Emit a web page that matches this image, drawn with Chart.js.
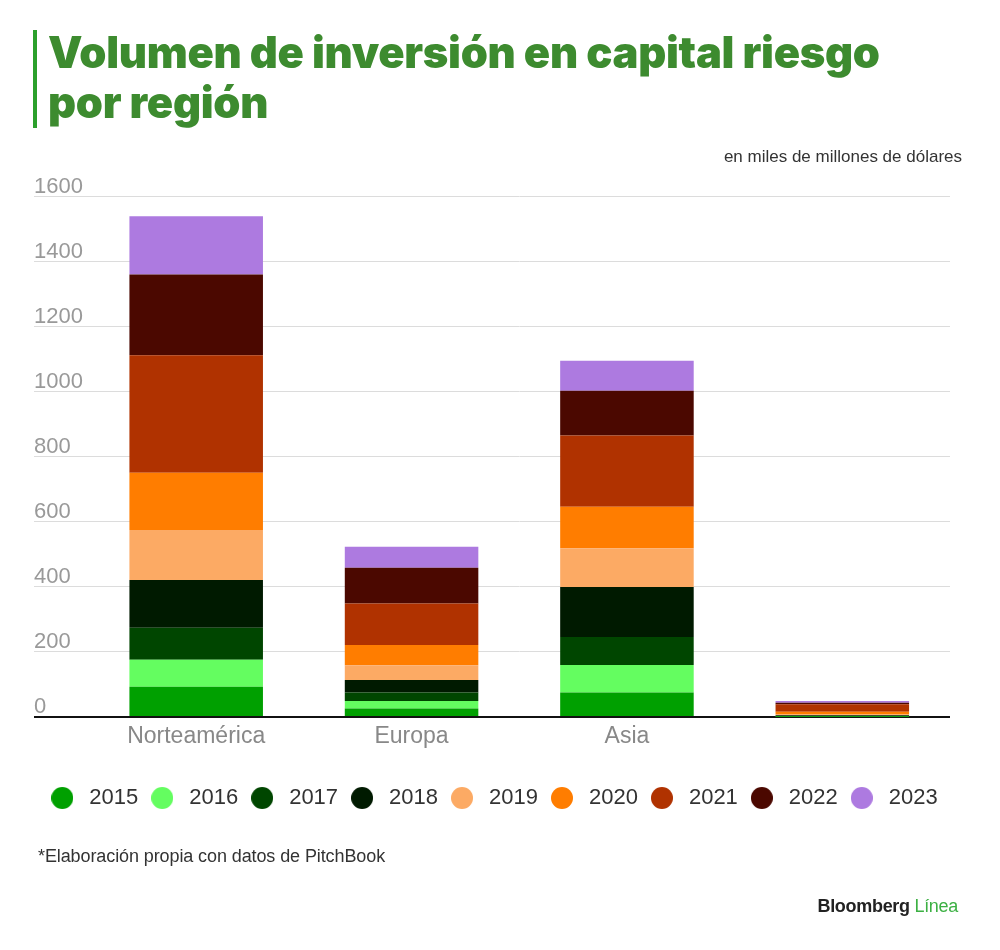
<!DOCTYPE html>
<html lang="es">
<head>
<meta charset="utf-8">
<title>Volumen de inversión en capital riesgo por región</title>
<script src="https://cdn.jsdelivr.net/npm/chart.js@4.4.1/dist/chart.umd.min.js"></script>
<style>
  html, body { margin: 0; padding: 0; background: #fff; }
  #page { position: relative; width: 1000px; height: 950px; overflow: hidden; font-family: "Liberation Sans", Arial, sans-serif; }
  #wrap { position: absolute; left: 0; top: 0; width: 1000px; height: 950px; }
  .bar { position: absolute; left: 33px; top: 30px; width: 4px; height: 98px; background: #2ca02c; }
  h1 { position: absolute; left: 48px; top: 27px; margin: 0; font-family: Inter, "Open Sans", sans-serif; font-weight: 900;
       font-size: 43.5px; line-height: 50px; letter-spacing: -0.3px; color: #3d8b2f; }
  .unit { position: absolute; right: 38px; top: 147px; font-size: 17px; color: #333; letter-spacing: 0; }
  .note { position: absolute; left: 38px; top: 846px; font-size: 18px; color: #333; letter-spacing: -0.1px; }
  .logo { position: absolute; right: 42px; top: 896px; font-size: 18px; font-weight: bold; color: #222; letter-spacing: -0.3px; }
  .logo span { color: #3cb043; font-weight: normal; }
</style>
</head>
<body>
<div id="page">
  <div id="wrap"><canvas id="grafica"></canvas></div>
  <div class="bar"></div>
  <h1>Volumen de inversión en capital riesgo<br>por región</h1>
  <div class="unit">en miles de millones de dólares</div>
  <div class="note">*Elaboración propia con datos de PitchBook</div>
  <div class="logo">Bloomberg <span>Línea</span></div>
</div>
<script>
  // regiones (la cuarta barra no tiene etiqueta en el original)
  const regiones = ['Norteamérica', 'Europa', 'Asia', ''];
  const anios = ['2015', '2016', '2017', '2018', '2019', '2020', '2021', '2022', '2023'];

  // miles de millones de dólares
  const v2015 = [93, 26, 75, 1];
  const v2016 = [83, 23, 85, 1];
  const v2017 = [98, 26, 86, 1];
  const v2018 = [147, 39, 154, 2];
  const v2019 = [154, 45, 119, 3];
  const v2020 = [176, 62, 127, 8];
  const v2021 = [361, 128, 219, 23];
  const v2022 = [248, 110, 138, 5];
  const v2023 = [179, 64, 92, 5];

  const ticksY = [0, 200, 400, 600, 800, 1000, 1200, 1400, 1600];

  const colores = ['#00a000', '#64fd60', '#004600', '#001a00', '#fcaa64', '#ff7d00', '#b03200', '#4b0800', '#ad7ae0'];
  const series = [v2015, v2016, v2017, v2018, v2019, v2020, v2021, v2022, v2023];

  // circulitos de la leyenda (imagen para poder separar el texto del punto)
  const puntos = colores.map(c => {
    const cv = document.createElement('canvas');
    cv.width = 22; cv.height = 22;
    const g = cv.getContext('2d');
    g.fillStyle = c;
    g.beginPath();
    g.arc(11, 11, 11, 0, Math.PI * 2);
    g.fill();
    return cv;
  });

  const ctx = document.getElementById('grafica').getContext('2d');

  const grafica = new Chart(ctx, {
    type: 'bar',
    data: {
      labels: regiones,
      datasets: series.map((valores, i) => ({
        label: anios[i],
        data: valores,
        backgroundColor: colores[i],
        borderWidth: 0,
        categoryPercentage: 1,
        barPercentage: 0.62
      }))
    },
    options: {
      responsive: true,
      maintainAspectRatio: false,
      animation: false,
      layout: {
        padding: { left: 34, right: 50, top: 196.5, bottom: 131 }
      },
      plugins: {
        legend: {
          position: 'bottom',
          labels: {
            usePointStyle: true,
            pointStyleWidth: 32,
            boxHeight: 22,
            padding: 8,
            color: '#333',
            font: { family: 'Liberation Sans', size: 22 },
            generateLabels: (chart) =>
              Chart.defaults.plugins.legend.labels.generateLabels(chart)
                .map((item, i) => ({ ...item, pointStyle: puntos[i] }))
          }
        },
        tooltip: { enabled: false }
      },
      scales: {
        x: {
          stacked: true,
          grid: { display: false, drawTicks: false },
          border: { display: false },
          ticks: {
            color: '#888',
            padding: 6,
            font: { family: 'Liberation Sans', size: 23 }
          },
          afterFit: (scale) => { scale.height = 62; }
        },
        y: {
          stacked: true,
          min: 0,
          max: 1600,
          afterBuildTicks: (scale) => { scale.ticks = ticksY.map(v => ({ value: v })); },
          afterFit: (scale) => { scale.width = 54.5; },
          border: { display: false },
          grid: {
            tickLength: 54.5,
            color: (c) => c.tick && c.tick.value === 0 ? '#111' : '#dcdcdc',
            lineWidth: (c) => c.tick && c.tick.value === 0 ? 2 : 1
          },
          ticks: {
            crossAlign: 'far',
            labelOffset: -10,
            padding: 0,
            color: '#999',
            font: { family: 'Liberation Sans', size: 22 },
            callback: (v) => String(v)
          }
        }
      }
    }
  });
</script>
</body>
</html>
